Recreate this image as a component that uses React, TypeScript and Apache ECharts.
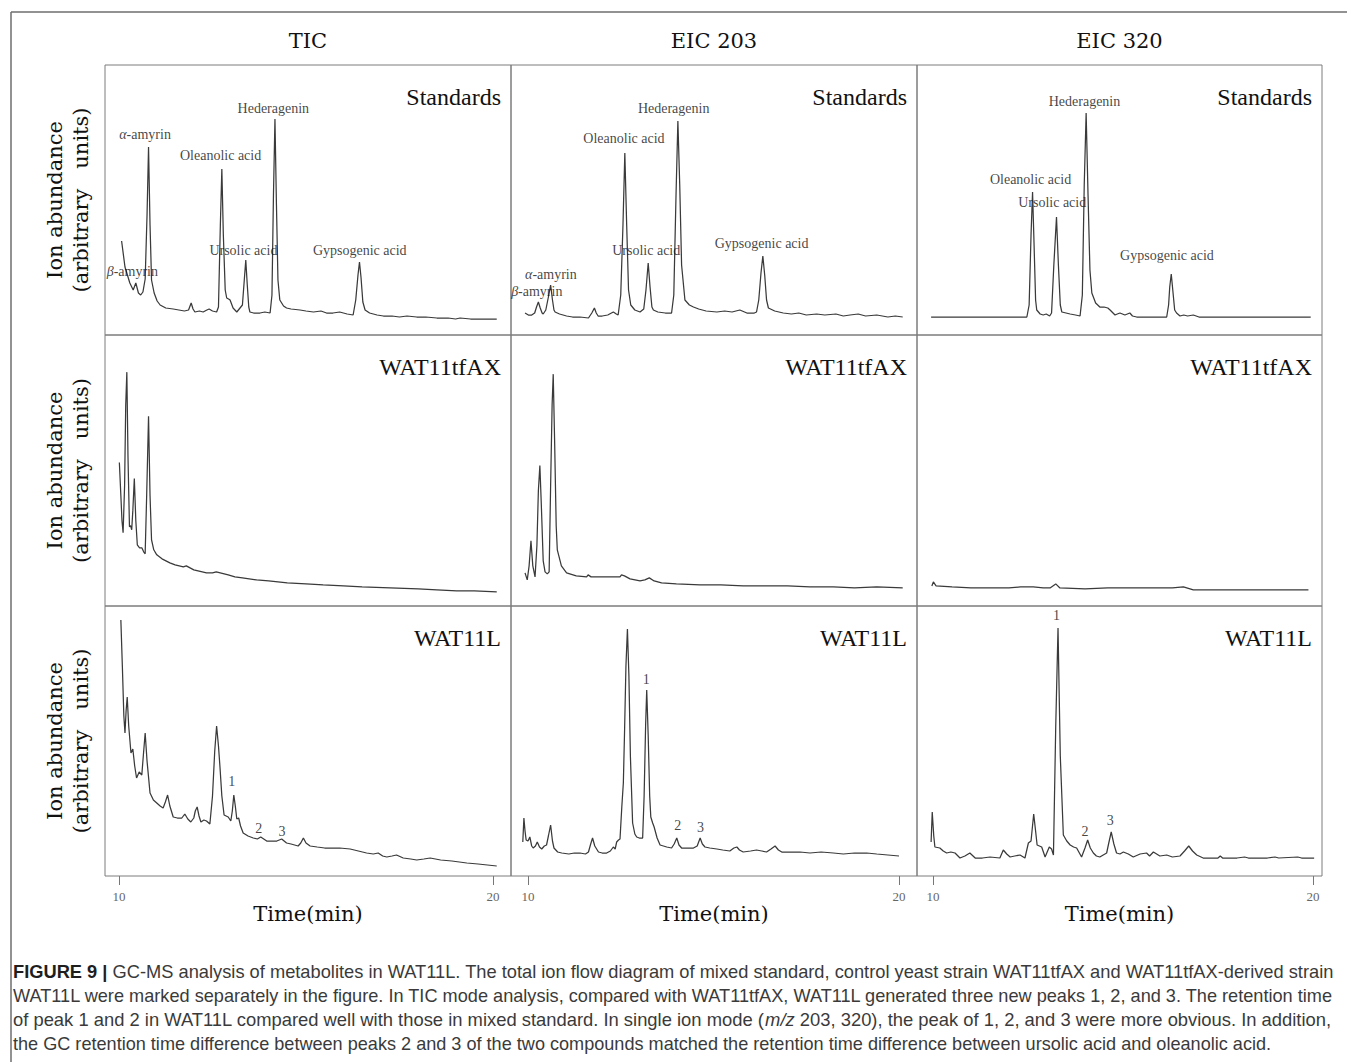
import React, { useEffect, useRef } from "react";
import * as echarts from "echarts";

type Pt = [number, number];
type Ann = [string, number, number];

// ---------------- texts ----------------
const columnTitles = ["TIC", "EIC 203", "EIC 320"];
const sampleNames = ["Standards", "WAT11tfAX", "WAT11L"];
const xTickValues = [10, 20];
const yTitleLine1 = "Ion abundance";
const yTitleLine2 = "(arbitrary   units)";
const xTitle = "Time(min)";

// ---------------- data: [retention time (min), ion abundance (a.u.)] ----------------
const ticStandards: Pt[] = [
  [10.07, 94], [10.16, 68], [10.29, 52], [10.38, 45], [10.45, 52], [10.52, 42], [10.58, 40], [10.64, 43],
  [10.7, 56], [10.75, 120], [10.79, 188], [10.83, 110], [10.87, 55], [10.94, 42], [11.02, 34], [11.1, 30],
  [11.25, 27], [11.45, 26], [11.6, 25], [11.75, 24], [11.86, 25], [11.93, 32], [11.98, 26], [12.03, 23],
  [12.15, 24], [12.25, 23], [12.35, 25], [12.41, 26], [12.5, 24], [12.61, 23], [12.66, 28], [12.71, 110],
  [12.75, 166], [12.79, 100], [12.84, 45], [12.88, 37], [12.93, 36], [12.97, 35], [13.05, 27], [13.15, 23],
  [13.3, 30], [13.35, 55], [13.39, 75], [13.43, 50], [13.47, 28], [13.5, 23], [13.6, 22], [13.77, 22],
  [13.9, 23], [14.04, 22], [14.09, 40], [14.13, 140], [14.17, 216], [14.21, 130], [14.25, 55], [14.3, 35],
  [14.4, 29], [14.48, 27], [14.6, 26], [14.84, 25], [15.0, 24], [15.2, 23], [15.4, 24], [15.55, 22],
  [15.72, 22], [15.9, 23], [16.1, 21], [16.26, 20], [16.33, 35], [16.39, 60], [16.43, 73], [16.47, 58],
  [16.52, 33], [16.58, 25], [16.7, 22], [16.9, 20], [17.07, 19], [17.3, 19], [17.5, 18], [17.7, 19],
  [17.96, 18], [18.2, 18], [18.5, 17], [18.8, 17], [19.0, 16], [19.12, 17], [19.4, 16], [19.7, 16], [20.1, 16],
];
const eic203Standards: Pt[] = [
  [9.92, 22], [10.01, 20], [10.1, 20], [10.18, 22], [10.23, 28], [10.28, 33], [10.33, 27], [10.38, 22],
  [10.41, 21], [10.48, 25], [10.55, 38], [10.61, 50], [10.66, 35], [10.7, 25], [10.73, 23], [10.85, 21],
  [11.04, 19], [11.2, 18], [11.4, 18], [11.63, 17], [11.72, 22], [11.79, 27], [11.84, 22], [11.89, 19],
  [12.0, 19], [12.15, 20], [12.3, 23], [12.38, 21], [12.43, 20], [12.5, 40], [12.56, 110], [12.61, 182],
  [12.66, 110], [12.71, 45], [12.77, 30], [12.88, 25], [13.02, 23], [13.12, 26], [13.18, 45], [13.24, 72],
  [13.29, 48], [13.34, 28], [13.38, 25], [13.5, 23], [13.7, 22], [13.87, 22], [13.93, 40], [13.99, 140],
  [14.04, 214], [14.09, 150], [14.14, 70], [14.23, 35], [14.35, 30], [14.46, 28], [14.6, 26], [14.8, 24],
  [15.09, 23], [15.3, 24], [15.5, 23], [15.71, 25], [15.9, 22], [16.1, 22], [16.16, 23], [16.22, 35],
  [16.28, 62], [16.33, 79], [16.38, 60], [16.43, 35], [16.48, 27], [16.65, 24], [16.88, 22], [17.1, 21],
  [17.3, 22], [17.5, 20], [17.78, 21], [18.0, 20], [18.3, 21], [18.5, 19], [18.68, 20], [18.9, 21],
  [19.1, 19], [19.4, 20], [19.7, 18], [19.9, 19], [20.1, 18],
];
const eic320Standards: Pt[] = [
  [9.95, 18], [12.47, 18], [12.53, 30], [12.58, 100], [12.62, 143], [12.66, 90], [12.7, 35], [12.73, 25],
  [12.82, 21], [12.9, 20], [12.98, 21], [13.07, 19], [13.12, 22], [13.18, 70], [13.25, 118], [13.3, 70],
  [13.35, 30], [13.39, 23], [13.5, 22], [13.61, 21], [13.75, 20], [13.87, 19], [13.93, 40], [13.98, 150],
  [14.03, 222], [14.08, 140], [14.13, 65], [14.18, 42], [14.28, 32], [14.39, 28], [14.5, 28], [14.6, 27],
  [14.66, 25], [14.79, 20], [14.85, 21], [14.92, 22], [15.05, 20], [15.18, 22], [15.25, 19], [15.36, 18],
  [16.15, 18], [16.2, 30], [16.23, 48], [16.27, 61], [16.31, 45], [16.36, 25], [16.41, 22], [16.5, 19],
  [16.6, 20], [16.7, 19], [16.85, 20], [17.0, 18], [17.2, 18], [19.94, 18],
];
const ticWat11tfax: Pt[] = [
  [10.01, 143], [10.05, 110], [10.08, 85], [10.11, 73], [10.15, 120], [10.18, 200], [10.21, 233], [10.24, 150],
  [10.28, 79], [10.31, 80], [10.34, 76], [10.37, 95], [10.41, 127], [10.45, 85], [10.49, 61], [10.55, 58],
  [10.61, 58], [10.66, 54], [10.7, 52], [10.74, 110], [10.79, 189], [10.83, 110], [10.87, 66], [10.93, 56],
  [11.01, 51], [11.15, 47], [11.36, 43], [11.5, 41], [11.72, 39], [11.8, 40], [12.0, 36], [12.34, 33],
  [12.5, 33], [12.6, 34], [12.92, 31], [13.1, 29], [13.3, 28], [13.68, 26], [14.0, 25], [14.5, 23],
  [15.0, 22], [15.46, 21], [16.0, 20], [16.5, 19], [17.25, 18], [18.0, 17], [18.5, 16], [19.03, 15],
  [19.5, 15], [20.1, 14],
];
const eic203Wat11tfax: Pt[] = [
  [9.92, 33], [9.98, 26], [10.03, 40], [10.08, 65], [10.13, 40], [10.19, 29], [10.24, 60], [10.28, 115],
  [10.32, 140], [10.36, 100], [10.41, 45], [10.46, 34], [10.52, 32], [10.57, 34], [10.61, 120], [10.65, 200],
  [10.68, 231], [10.72, 160], [10.76, 80], [10.79, 56], [10.9, 40], [11.04, 33], [11.3, 30], [11.58, 29],
  [11.62, 31], [11.7, 29], [12.0, 29], [12.3, 29], [12.48, 29], [12.52, 31], [12.6, 30], [12.75, 27],
  [13.02, 25], [13.15, 26], [13.27, 28], [13.4, 25], [13.6, 23], [14.0, 22], [14.64, 21], [15.2, 21],
  [15.8, 20], [16.43, 20], [17.0, 20], [17.6, 19], [18.23, 19], [18.8, 18], [19.4, 19], [20.1, 18],
];
const eic320Wat11tfax: Pt[] = [
  [9.97, 20], [10.01, 24], [10.08, 20], [10.5, 19], [11.0, 18], [11.32, 18], [12.0, 18], [12.3, 19],
  [12.64, 19], [12.9, 18], [13.08, 18], [13.23, 22], [13.34, 18], [14.0, 17], [14.6, 18], [15.27, 18],
  [15.8, 18], [16.3, 18], [16.59, 19], [16.85, 16], [17.5, 16], [18.5, 16], [19.88, 16],
];
const ticWat11l: Pt[] = [
  [10.05, 256], [10.09, 210], [10.13, 160], [10.16, 143], [10.19, 165], [10.22, 179], [10.26, 150], [10.32, 123],
  [10.37, 127], [10.42, 110], [10.47, 98], [10.54, 104], [10.61, 101], [10.65, 120], [10.7, 143], [10.75, 115],
  [10.83, 83], [10.92, 76], [11.01, 73], [11.1, 70], [11.18, 68], [11.24, 74], [11.3, 81], [11.36, 70],
  [11.45, 59], [11.56, 58], [11.68, 58], [11.76, 62], [11.84, 57], [11.92, 54], [12.0, 58], [12.04, 65],
  [12.09, 69], [12.14, 60], [12.19, 54], [12.27, 56], [12.34, 55], [12.43, 52], [12.5, 80], [12.56, 125],
  [12.61, 150], [12.66, 130], [12.7, 109], [12.75, 80], [12.81, 61], [12.92, 59], [12.99, 55], [13.03, 65],
  [13.07, 81], [13.11, 70], [13.15, 57], [13.2, 58], [13.25, 50], [13.32, 43], [13.45, 40], [13.59, 38],
  [13.7, 37], [13.79, 39], [13.87, 37], [13.95, 35], [14.1, 35], [14.22, 35], [14.35, 37], [14.48, 33],
  [14.6, 32], [14.79, 30], [14.86, 33], [14.93, 38], [15.0, 33], [15.11, 30], [15.3, 29], [15.5, 28],
  [15.73, 28], [15.9, 28], [16.18, 27], [16.4, 25], [16.62, 23], [16.8, 22], [16.93, 23], [17.05, 20],
  [17.16, 19], [17.3, 20], [17.42, 21], [17.6, 18], [17.8, 17], [17.96, 16], [18.15, 17], [18.32, 18],
  [18.6, 16], [18.9, 15], [19.3, 13], [19.6, 12], [19.85, 11], [20.1, 10],
];
const eic203Wat11l: Pt[] = [
  [9.86, 34], [9.89, 58], [9.92, 45], [9.95, 36], [10.0, 35], [10.05, 39], [10.1, 30], [10.14, 28],
  [10.2, 30], [10.25, 34], [10.31, 29], [10.37, 27], [10.44, 30], [10.5, 31], [10.55, 40], [10.61, 51],
  [10.66, 35], [10.7, 28], [10.8, 24], [10.91, 23], [11.1, 22], [11.25, 23], [11.4, 23], [11.55, 22],
  [11.63, 24], [11.69, 32], [11.74, 38], [11.8, 30], [11.9, 24], [12.0, 23], [12.12, 23], [12.22, 25],
  [12.3, 29], [12.35, 27], [12.39, 34], [12.44, 36], [12.48, 37], [12.53, 70], [12.57, 93], [12.6, 140],
  [12.64, 210], [12.68, 247], [12.72, 200], [12.76, 120], [12.82, 53], [12.88, 42], [12.93, 39], [13.0, 38],
  [13.09, 38], [13.13, 80], [13.17, 150], [13.2, 186], [13.24, 140], [13.28, 80], [13.31, 59], [13.36, 53],
  [13.4, 49], [13.48, 38], [13.56, 31], [13.65, 30], [13.74, 29], [13.87, 28], [13.94, 32], [14.01, 38],
  [14.07, 31], [14.14, 28], [14.3, 28], [14.46, 28], [14.56, 30], [14.64, 38], [14.7, 32], [14.77, 29],
  [14.9, 28], [15.09, 27], [15.25, 26], [15.44, 25], [15.55, 28], [15.63, 29], [15.7, 26], [15.8, 24],
  [16.0, 25], [16.16, 26], [16.3, 25], [16.43, 24], [16.55, 27], [16.66, 30], [16.75, 26], [16.84, 24],
  [17.0, 24], [17.33, 24], [17.6, 23], [17.9, 24], [18.23, 23], [18.5, 22], [18.8, 23], [19.13, 23],
  [19.4, 22], [19.7, 21], [20.0, 20],
];
const eic320Wat11l: Pt[] = [
  [9.95, 34], [9.98, 64], [10.02, 40], [10.05, 29], [10.18, 28], [10.27, 25], [10.36, 23], [10.47, 24],
  [10.58, 23], [10.71, 18], [10.84, 20], [10.97, 23], [11.11, 18], [11.3, 18], [11.5, 19], [11.76, 18],
  [11.85, 26], [11.94, 22], [12.03, 19], [12.15, 20], [12.29, 21], [12.42, 18], [12.51, 33], [12.58, 35],
  [12.65, 62], [12.7, 45], [12.74, 31], [12.8, 30], [12.86, 29], [12.95, 19], [13.06, 29], [13.12, 27],
  [13.17, 21], [13.23, 150], [13.29, 248], [13.35, 120], [13.43, 41], [13.52, 35], [13.61, 31], [13.7, 29],
  [13.78, 28], [13.91, 19], [14.0, 28], [14.07, 36], [14.14, 28], [14.22, 23], [14.3, 20], [14.39, 19],
  [14.48, 21], [14.57, 23], [14.62, 32], [14.69, 44], [14.76, 32], [14.83, 23], [14.92, 22], [15.01, 24],
  [15.14, 22], [15.27, 19], [15.45, 22], [15.62, 23], [15.7, 20], [15.8, 24], [15.97, 20], [16.15, 21],
  [16.3, 19], [16.5, 20], [16.62, 25], [16.73, 30], [16.83, 25], [16.94, 21], [17.11, 18], [17.5, 18],
  [17.56, 20], [17.62, 18], [18.0, 18], [18.2, 19], [18.3, 18], [18.8, 18], [19.0, 19], [19.1, 18],
  [19.6, 19], [19.7, 18], [20.03, 18],
];

// ---------------- peak annotations: [text, time, abundance] ----------------
const ticStandardsPeaks: Ann[] = [
  ["{g|α}-amyrin", 10.71, 200], ["{g|β}-amyrin", 10.37, 63], ["Oleanolic acid", 12.73, 179],
  ["Hederagenin", 14.14, 226], ["Ursolic acid", 13.34, 84], ["Gypsogenic acid", 16.45, 84],
];
const eic203StandardsPeaks: Ann[] = [
  ["Oleanolic acid", 12.6, 196], ["Hederagenin", 13.94, 226], ["Ursolic acid", 13.2, 84],
  ["Gypsogenic acid", 16.31, 91], ["{g|α}-amyrin", 10.63, 60], ["{g|β}-amyrin", 10.25, 43],
];
const eic320StandardsPeaks: Ann[] = [
  ["Hederagenin", 14.0, 233], ["Oleanolic acid", 12.58, 155], ["Ursolic acid", 13.15, 132],
  ["Gypsogenic acid", 16.17, 79],
];
const ticWat11lPeaks: Ann[] = [["1", 13.03, 94], ["2", 13.75, 47], ["3", 14.37, 44]];
const eic203Wat11lPeaks: Ann[] = [["1", 13.2, 196], ["2", 14.05, 50], ["3", 14.66, 48]];
const eic320Wat11lPeaks: Ann[] = [["1", 13.26, 260], ["2", 14.01, 44], ["3", 14.68, 55]];

const traces: Pt[][][] = [
  [ticStandards, eic203Standards, eic320Standards],
  [ticWat11tfax, eic203Wat11tfax, eic320Wat11tfax],
  [ticWat11l, eic203Wat11l, eic320Wat11l],
];
const peaks: Ann[][][] = [
  [ticStandardsPeaks, eic203StandardsPeaks, eic320StandardsPeaks],
  [[], [], []],
  [ticWat11lPeaks, eic203Wat11lPeaks, eic320Wat11lPeaks],
];

// ---------------- caption ----------------
type Seg = { t: string; s?: "b" | "i" };
const captionLines: Seg[][] = [
  [{ t: "FIGURE 9 |", s: "b" }, { t: " GC-MS analysis of metabolites in WAT11L. The total ion flow diagram of mixed standard, control yeast strain WAT11tfAX and WAT11tfAX-derived strain" }],
  [{ t: "WAT11L were marked separately in the figure. In TIC mode analysis, compared with WAT11tfAX, WAT11L generated three new peaks 1, 2, and 3. The retention time" }],
  [{ t: "of peak 1 and 2 in WAT11L compared well with those in mixed standard. In single ion mode (" }, { t: "m/z", s: "i" }, { t: " 203, 320), the peak of 1, 2, and 3 were more obvious. In addition," }],
  [{ t: "the GC retention time difference between peaks 2 and 3 of the two compounds matched the retention time difference between ursolic acid and oleanolic acid." }],
];

// ---------------- layout ----------------
const W = 1347;
const H = 1062;
const GRID_LEFT = [105, 511, 917];
const GRID_W = [406, 406, 405];
const GRID_TOP = [65, 335, 606];
const GRID_H = [270, 271, 270];
const X_RANGE: [number, number][] = [[9.626, 20.481], [9.542, 20.485], [9.579, 20.237]];
const Y_MAX = 270;
const CAPTION_X = 13;
const CAPTION_Y = [972, 996, 1020, 1044];
const CAPTION_RIGHT = [1335, 1335, 1331, 1272];
const CAPTION_SIZE = 17.5;
const CAPTION_FONT = '"Liberation Sans", Arial, sans-serif';
const SERIF = '"Liberation Serif", "Times New Roman", serif';
const HEAVY_SERIF = '"DejaVu Serif", serif';

function measure(segs: Seg[]): number {
  const ctx = document.createElement("canvas").getContext("2d");
  if (!ctx) return 0;
  let w = 0;
  for (const seg of segs) {
    ctx.font = `${seg.s === "i" ? "italic " : ""}${seg.s === "b" ? "bold " : ""}${CAPTION_SIZE}px ${CAPTION_FONT}`;
    w += ctx.measureText(seg.t).width;
  }
  return w;
}

function buildOption(): any {
  const grid: any[] = [];
  const xAxis: any[] = [];
  const yAxis: any[] = [];
  const series: any[] = [];
  const graphic: any[] = [];

  for (let r = 0; r < 3; r++) {
    for (let c = 0; c < 3; c++) {
      const idx = r * 3 + c;
      const bottom = r === 2;
      grid.push({
        left: GRID_LEFT[c], top: GRID_TOP[r], width: GRID_W[c], height: GRID_H[r],
        show: true, borderColor: "#7d7d7d", borderWidth: 1, backgroundColor: "transparent",
      });
      xAxis.push({
        type: "value", gridIndex: idx, min: X_RANGE[c][0], max: X_RANGE[c][1],
        axisLine: { show: false }, splitLine: { show: false },
        axisTick: { show: bottom, customValues: xTickValues, length: 9, lineStyle: { color: "#777", width: 1 } },
        axisLabel: { show: bottom, customValues: xTickValues, margin: 14, fontFamily: SERIF, fontSize: 13, color: "#666" },
        name: bottom ? xTitle : "", nameLocation: "middle", nameGap: 26,
        nameTextStyle: { fontFamily: HEAVY_SERIF, fontSize: 21, color: "#111" },
      });
      yAxis.push({ type: "value", gridIndex: idx, min: 0, max: Y_MAX, show: false });
      series.push({
        type: "line", xAxisIndex: idx, yAxisIndex: idx, data: traces[r][c],
        showSymbol: false, symbol: "none", silent: true, z: 2,
        lineStyle: { color: "#3a3a3a", width: 1.25 },
      });
      const ann = peaks[r][c];
      if (ann.length) {
        series.push({
          type: "scatter", xAxisIndex: idx, yAxisIndex: idx, silent: true, z: 3,
          data: ann.map((a) => ({ value: [a[1], a[2]], name: a[0] })),
          symbolSize: 1, itemStyle: { color: "rgba(0,0,0,0)" },
          label: {
            show: true, position: [0, 0], align: "center", verticalAlign: "middle",
            formatter: (p: any) => p.name,
            fontFamily: SERIF, fontSize: 14, color: "#111",
            rich: { g: { fontFamily: SERIF, fontSize: 14, fontStyle: "italic", color: "#111" } },
          },
        });
      }
      // sample name in the upper-right corner of each panel
      graphic.push({
        type: "text", x: GRID_LEFT[c] + GRID_W[c] - 10, y: GRID_TOP[r] + 32, silent: true,
        style: { text: sampleNames[r], fontFamily: SERIF, fontSize: 24, fill: "#111", textAlign: "right", textVerticalAlign: "middle" },
      });
    }
    // y-axis title per row
    const cy = GRID_TOP[r] + GRID_H[r] / 2;
    graphic.push({
      type: "text", x: 55, y: cy, rotation: Math.PI / 2, silent: true,
      style: { text: yTitleLine1, fontFamily: HEAVY_SERIF, fontSize: 21, fill: "#111", textAlign: "center", textVerticalAlign: "middle" },
    });
    graphic.push({
      type: "text", x: 81, y: cy, rotation: Math.PI / 2, silent: true,
      style: { text: yTitleLine2, fontFamily: HEAVY_SERIF, fontSize: 21, fill: "#111", textAlign: "center", textVerticalAlign: "middle" },
    });
  }
  // column titles
  for (let c = 0; c < 3; c++) {
    graphic.push({
      type: "text", x: GRID_LEFT[c] + GRID_W[c] / 2, y: 41, silent: true,
      style: { text: columnTitles[c], fontFamily: HEAVY_SERIF, fontSize: 21, fill: "#111", textAlign: "center", textVerticalAlign: "middle" },
    });
  }
  // outer frame (top and left rules)
  graphic.push({ type: "line", silent: true, shape: { x1: 11, y1: 12, x2: W, y2: 12 }, style: { stroke: "#6e6e6e", lineWidth: 1.5 } });
  graphic.push({ type: "line", silent: true, shape: { x1: 11, y1: 12, x2: 11, y2: H }, style: { stroke: "#6e6e6e", lineWidth: 1.5 } });
  // caption
  captionLines.forEach((segs, i) => {
    const text = segs.map((s) => (s.s ? `{${s.s}|${s.t}}` : s.t)).join("");
    const natural = measure(segs);
    const scaleX = natural > 0 ? (CAPTION_RIGHT[i] - CAPTION_X) / natural : 1;
    graphic.push({
      type: "text", x: CAPTION_X, y: CAPTION_Y[i], scaleX, silent: true,
      style: {
        text, fontFamily: CAPTION_FONT, fontSize: CAPTION_SIZE, fill: "#3a3a3a",
        textAlign: "left", textVerticalAlign: "middle",
        rich: {
          b: { fontFamily: CAPTION_FONT, fontSize: CAPTION_SIZE, fontWeight: "bold", fill: "#1e1e1e" },
          i: { fontFamily: CAPTION_FONT, fontSize: CAPTION_SIZE, fontStyle: "italic", fill: "#3a3a3a" },
        },
      },
    });
  });

  return {
    animation: false,
    backgroundColor: "#ffffff",
    grid, xAxis, yAxis, series, graphic,
  };
}

export default function App() {
  const ref = useRef<HTMLDivElement>(null);
  useEffect(() => {
    if (!ref.current) return;
    const chart = echarts.init(ref.current, null, { renderer: "svg", width: W, height: H });
    chart.setOption(buildOption());
    return () => chart.dispose();
  }, []);
  return <div ref={ref} style={{ position: "absolute", left: 0, top: 0, width: W, height: H, background: "#fff" }} />;
}
